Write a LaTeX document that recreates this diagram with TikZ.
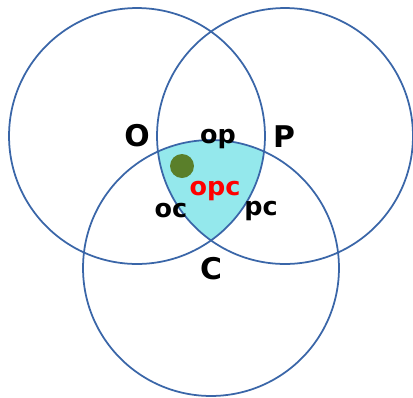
\documentclass[tikz,border=0pt]{standalone}
\usepackage{fontspec}
\setmainfont{DejaVu Sans}
\usepackage{tikz}
\usetikzlibrary{calc}
\definecolor{ring}{HTML}{3A66A8}
\definecolor{core}{HTML}{94E8EC}
\definecolor{dot}{HTML}{5A7F2A}

\begin{document}
\begin{tikzpicture}[x=0.02cm,y=-0.02cm,
  lbl/.style={font=\bfseries\fontsize{14.5}{16}\selectfont,anchor=base},
  big/.style={font=\bfseries\fontsize{17}{19}\selectfont,anchor=base}]
  \useasboundingbox (0,0) rectangle (413,397);
  \coordinate (o) at (137,136);
  \coordinate (p) at (285,136);
  \coordinate (c) at (211,268);
  % common part of the three sets
  \begin{scope}
    \clip (o) circle (2.56cm);
    \clip (p) circle (2.56cm);
    \fill[core] (c) circle (2.56cm);
  \end{scope}
  \foreach \k in {o,p,c}
    \draw[ring,line width=1pt] (\k) circle (2.56cm);
  \fill[dot] (182,166) circle (0.24cm);
  \node[big] (labO) at (137,146) {O};
  \node[big] (labP) at (284,147) {P};
  \node[big] (labC) at (211,279) {C};
  \node[lbl] (labop) at (218,143) {op};
  \node[lbl,red] (labopc) at (215,195) {opc};
  \node[lbl] (laboc) at (171,217) {oc};
  \node[lbl] (labpc) at (261,215) {pc};
\end{tikzpicture}
\end{document}
